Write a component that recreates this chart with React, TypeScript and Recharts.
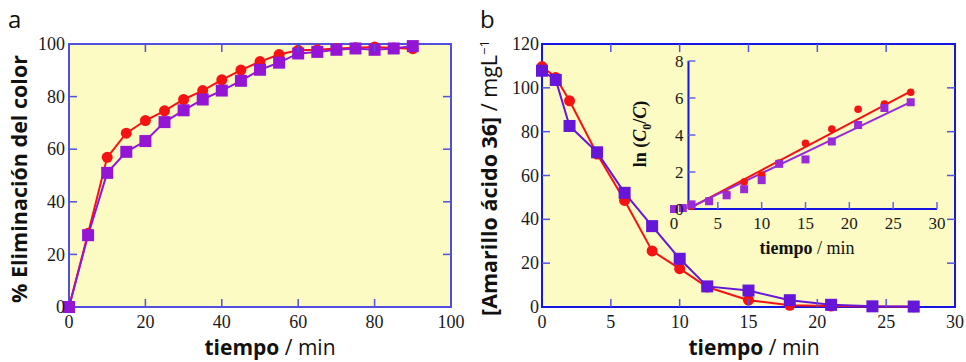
import React from 'react';
import { LineChart, Line, XAxis, YAxis, ReferenceArea, ReferenceLine } from 'recharts';

// ---- data ----
const timeA = [0, 5, 10, 15, 20, 25, 30, 35, 40, 45, 50, 55, 60, 65, 70, 75, 80, 85, 90];
const removalCircles = [0, 28, 56.9, 66.1, 70.9, 74.6, 78.9, 82.3, 86.4, 90.1, 93.3, 96.0, 97.6, 97.8, 98.3, 98.6, 98.9, 98.5, 98.2];
const removalSquares = [0, 27.3, 51, 59, 63.1, 70.3, 74.8, 78.9, 82.3, 86, 90.2, 92.9, 96.4, 97, 97.8, 98.3, 97.8, 98.3, 99.2];

const timeB = [0, 1, 2, 4, 6, 8, 10, 12, 15, 18, 21, 24, 27];
const concCircles = [109.7, 104.7, 94.1, 69.8, 48.6, 25.6, 17.5, 9.1, 3.1, 0.8, 0.4, 0.2, 0.1];
const concSquares = [107.8, 103.6, 82.6, 70.6, 52.1, 36.9, 22.0, 9.4, 7.5, 3.1, 1.0, 0.3, 0.2];

const lnCircles = [0, 0.05, 0.15, 0.45, 0.81, 1.46, 1.83, 2.48, 3.55, 4.32, 5.39, 5.67, 6.31];
const lnSquares = [0, 0.05, 0.25, 0.42, 0.74, 1.07, 1.56, 2.44, 2.68, 3.65, 4.54, 5.46, 5.77];
const fitCircles = [{ t: 1.7, v: 0.02 }, { t: 27.1, v: 6.39 }];
const fitSquares = [{ t: 1.7, v: 0.06 }, { t: 27.1, v: 5.8 }];

const ticksA = [0, 20, 40, 60, 80, 100];
const ticksBx = [0, 5, 10, 15, 20, 25, 30];
const ticksBy = [0, 20, 40, 60, 80, 100, 120];
const ticksInsetX = [0, 5, 10, 15, 20, 25, 30];
const ticksInsetY = [0, 2, 4, 6, 8];

const rowsA = timeA.map((t, i) => ({ t, red: removalCircles[i], purple: removalSquares[i] }));
const rowsB = timeB.map((t, i) => ({ t, red: concCircles[i], purple: concSquares[i] }));
const rowsInset = timeB.map((t, i) => ({ t, red: lnCircles[i], purple: lnSquares[i] }));

// ---- styles ----
const YELLOW = '#fcfbc4';
const RED = '#f51212';
const PURPLE_A = '#9416d4';
const PURPLE_B = '#6616d8';
const PURPLE_IN = '#9a2ad8';
const SERIF = '"Liberation Serif", "Times New Roman", serif';
const SANS = '"Open Sans", "Noto Sans", sans-serif';

// axes take 1px (an axis of size 0 is not drawn), so margins are 1px short
const marginA = { top: 44, right: 29, bottom: 54, left: 68 };
const marginB = { top: 44, right: 11, bottom: 54, left: 61 };
const marginIn = { top: 21, right: 13, bottom: 60, left: 73 };
const INSET_W = 350;
const INSET_H = 230;
const INSET_AXIS_T = 1.65; // where the inset's y axis crosses the time axis

type Frame = { top: number; right: number; len: number; color: string; ends: number[] };

// bottom axis tick: label plus inward marks at bottom and top of the frame
const xTick = (f: Frame, dy: number, size: number) => (p: any) => {
  const v = p.payload.value;
  const edge = f.ends.includes(v);
  return (
    <g>
      {!edge && <line x1={p.x} x2={p.x} y1={p.y} y2={p.y - f.len} stroke={f.color} strokeWidth={1.5} />}
      {!edge && f.top >= 0 && <line x1={p.x} x2={p.x} y1={f.top} y2={f.top + f.len} stroke={f.color} strokeWidth={1.5} />}
      <text x={p.x} y={p.y + dy} textAnchor="middle" style={{ fontFamily: SERIF, fontSize: size }} fill="#1a1a1a">{v}</text>
    </g>
  );
};

// left axis tick: label plus inward marks at left and right of the frame
const yTick = (f: Frame, lineX: number, labelX: number, size: number) => (p: any) => {
  const v = p.payload.value;
  const edge = f.ends.includes(v);
  const x0 = p.x + lineX;
  return (
    <g>
      {!edge && <line x1={x0} x2={x0 + f.len} y1={p.y} y2={p.y} stroke={f.color} strokeWidth={1.5} />}
      {!edge && f.right >= 0 && <line x1={f.right - f.len} x2={f.right} y1={p.y} y2={p.y} stroke={f.color} strokeWidth={1.5} />}
      <text x={p.x + labelX} y={p.y} dy="0.34em" textAnchor="end" style={{ fontFamily: SERIF, fontSize: size }} fill="#1a1a1a">{v}</text>
    </g>
  );
};

const circleDot = (r: number, fill: string) => (p: any) => (
  <circle key={`c-${p.index}`} cx={p.cx} cy={p.cy} r={r} fill={fill} />
);
const squareDot = (s: number, fill: string) => (p: any) => (
  <rect key={`s-${p.index}`} x={p.cx - s / 2} y={p.cy - s / 2} width={s} height={s} fill={fill} />
);

const frameA: Frame = { top: marginA.top, right: 480 - marginA.right, len: 8, color: '#5050dc', ends: [0, 100] };
const frameB: Frame = { top: marginB.top, right: 486 - marginB.right, len: 8, color: '#5454e2', ends: [0, 30, 120] };
const frameIn: Frame = { top: -1, right: -1, len: 7, color: '#6464e4', ends: [0] };

const inScale = (INSET_W - marginIn.left - 1 - marginIn.right) / 30;

export default function App() {
  return (
    <div style={{ position: 'absolute', left: 0, top: 0, width: 966, height: 362, background: '#fff', overflow: 'hidden' }}>
      {/* panel a */}
      <div style={{ position: 'absolute', left: 0, top: 0 }}>
        <LineChart width={480} height={362} data={rowsA} margin={marginA}>
          <XAxis type="number" dataKey="t" domain={[0, 100]} ticks={ticksA} interval={0} height={1}
            tickSize={0} tickMargin={0} axisLine={false} tickLine={false} tick={xTick(frameA, 21, 18)} />
          <YAxis type="number" domain={[0, 100]} ticks={ticksA} interval={0} width={1}
            tickSize={0} tickMargin={0} axisLine={false} tickLine={false} tick={yTick(frameA, 0, -4, 18)} />
          <ReferenceArea x1={0} x2={100} y1={0} y2={100} fill={YELLOW} fillOpacity={1} stroke="#5050dc" strokeWidth={2} />
          <Line dataKey="red" stroke={RED} strokeWidth={2} dot={circleDot(5.5, RED)} isAnimationActive={false} />
          <Line dataKey="purple" stroke={PURPLE_A} strokeWidth={2} dot={squareDot(12, PURPLE_A)} isAnimationActive={false} />
        </LineChart>
      </div>

      {/* panel b */}
      <div style={{ position: 'absolute', left: 480, top: 0 }}>
        <LineChart width={486} height={362} data={rowsB} margin={marginB}>
          <XAxis type="number" dataKey="t" domain={[0, 30]} ticks={ticksBx} interval={0} height={1}
            tickSize={0} tickMargin={0} axisLine={false} tickLine={false} tick={xTick(frameB, 21, 18)} />
          <YAxis type="number" domain={[0, 120]} ticks={ticksBy} interval={0} width={1}
            tickSize={0} tickMargin={0} axisLine={false} tickLine={false} tick={yTick(frameB, 0, -3, 18)} />
          <ReferenceArea x1={0} x2={30} y1={0} y2={120} fill={YELLOW} fillOpacity={1} stroke="#1616e4" strokeWidth={2} />
          <Line dataKey="red" stroke={RED} strokeWidth={2} dot={circleDot(5.5, RED)} isAnimationActive={false} />
          <Line dataKey="purple" stroke={PURPLE_B} strokeWidth={2} dot={squareDot(12, PURPLE_B)} isAnimationActive={false} />
        </LineChart>
      </div>

      {/* inset: ln(C0/C) against time */}
      <div style={{ position: 'absolute', left: 600, top: 40 }}>
        <LineChart width={INSET_W} height={INSET_H} data={rowsInset} margin={marginIn}>
          <XAxis type="number" dataKey="t" domain={[0, 30]} ticks={ticksInsetX} interval={0} height={1}
            tickSize={0} tickMargin={0} axisLine={false} tickLine={false} tick={xTick(frameIn, 20, 17)} />
          <YAxis type="number" domain={[0, 8]} ticks={ticksInsetY} interval={0} width={1}
            tickSize={0} tickMargin={0} axisLine={false} tickLine={false}
            tick={yTick(frameIn, INSET_AXIS_T * inScale, INSET_AXIS_T * inScale - 5, 17)} />
          <ReferenceLine segment={[{ x: INSET_AXIS_T, y: 0 }, { x: 30, y: 0 }]} stroke="#1616e4" strokeWidth={2} />
          <ReferenceLine segment={[{ x: INSET_AXIS_T, y: 0 }, { x: INSET_AXIS_T, y: 8 }]} stroke="#1616e4" strokeWidth={2} />
          <Line data={fitCircles} dataKey="v" stroke={RED} strokeWidth={2} dot={false} isAnimationActive={false} />
          <Line data={fitSquares} dataKey="v" stroke={PURPLE_IN} strokeWidth={2} dot={false} isAnimationActive={false} />
          <Line dataKey="red" stroke="none" dot={circleDot(3.8, RED)} isAnimationActive={false} />
          <Line dataKey="purple" stroke="none" dot={squareDot(8, PURPLE_IN)} isAnimationActive={false} />
        </LineChart>
      </div>

      {/* panel letters and axis titles */}
      <svg width={966} height={362} style={{ position: 'absolute', left: 0, top: 0, pointerEvents: 'none' }}>
        <text x={8} y={28} fontFamily={SANS} fontSize={24} fill="#111">a</text>
        <text x={480} y={28} fontFamily={SANS} fontSize={24} fill="#111">b</text>

        <text x={270} y={355} textAnchor="middle" fontFamily={SANS} fontSize={21} fill="#111">
          <tspan fontWeight={700}>tiempo</tspan> / min
        </text>
        <text x={754} y={355} textAnchor="middle" fontFamily={SANS} fontSize={21} fill="#111">
          <tspan fontWeight={700}>tiempo</tspan> / min
        </text>

        <text x={27} y={179} transform="rotate(-90 27 179)" textAnchor="middle" fontFamily={SANS} fontSize={21.5} fontWeight={700} fill="#111">
          % Eliminación del color
        </text>
        <text x={497} y={178} transform="rotate(-90 497 178)" textAnchor="middle" fontFamily={SANS} fontSize={21.5} fill="#111">
          <tspan fontWeight={700}>[Amarillo ácido 36]</tspan> / mgL<tspan fontSize={13} dy={-8}>−1</tspan>
        </text>

        <text x={807} y={254} textAnchor="middle" fontFamily={SERIF} fontSize={18} fill="#111">
          <tspan fontWeight={700}>tiempo</tspan> / min
        </text>
        <text x={646} y={134} transform="rotate(-90 646 134)" textAnchor="middle" fontFamily={SERIF} fontSize={18} fontWeight={700} fill="#111">
          ln (<tspan fontStyle="italic">C</tspan><tspan fontSize={12} dy={5}>0</tspan><tspan dy={-5}>/</tspan><tspan fontStyle="italic">C</tspan>)
        </text>
      </svg>
    </div>
  );
}
